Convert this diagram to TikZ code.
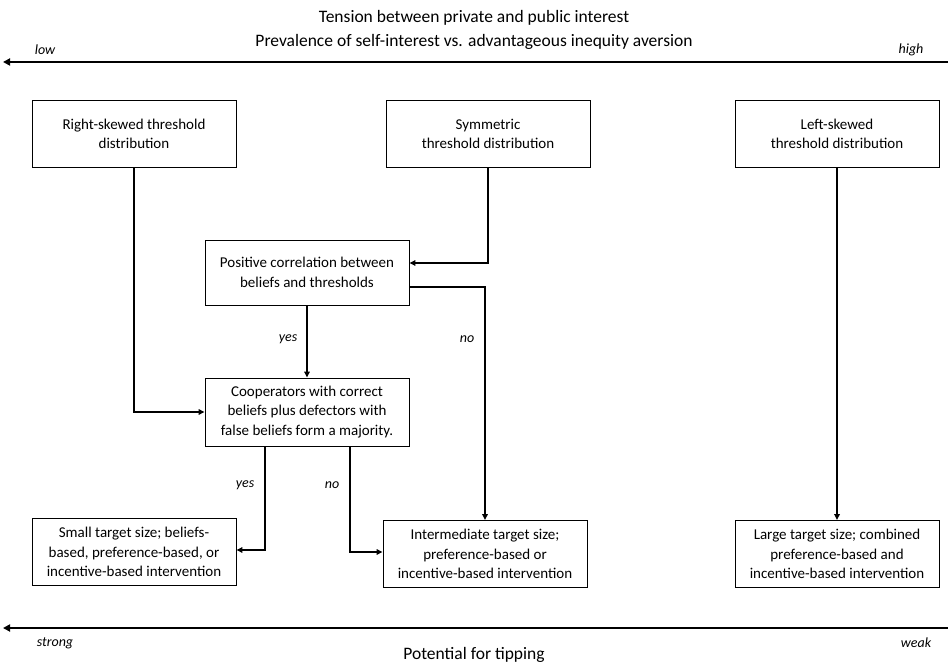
\documentclass[tikz,border=0pt]{standalone}
\usepackage{fontspec}
\setmainfont{Carlito}
\usetikzlibrary{arrows.meta}
\tikzset{
  box/.style={draw, line width=0.9pt, minimum width=204pt, minimum height=67pt, inner sep=0pt, align=center, font=\fontsize{15}{19.5}\selectfont},
  conn/.style={line width=2pt, -{Triangle[length=6pt,width=5.5pt]}},
  axis/.style={line width=2.6pt, -{Triangle[length=7pt,width=7pt]}},
  tag/.style={font=\fontsize{14}{16}\selectfont\itshape},
  heading/.style={font=\fontsize{17.5}{20}\selectfont}
}
\begin{document}
\begin{tikzpicture}[x=1pt,y=-1pt]
    \useasboundingbox (0,0) rectangle (948,668);

    %titoli e assi
    \node[heading] (t1) at (474,18) {Tension between private and public interest};
    \node[heading] (t2) at (474,42) {Prevalence of self-interest vs. advantageous inequity aversion};
    \coordinate (ax1r) at (948,62);
    \coordinate (ax1l) at (3,62);
    \draw[axis] (ax1r) -- (ax1l);
    \node[tag] (low) at (45,50) {low};
    \node[tag] (high) at (911,50) {high};

    \coordinate (ax2r) at (948,628);
    \coordinate (ax2l) at (3,628);
    \draw[axis] (ax2r) -- (ax2l);
    \node[tag] (strong) at (55,643) {strong};
    \node[tag] (weak) at (916,643) {weak};
    \node[heading] (tip) at (474,655) {Potential for tipping};

    %distribuzioni
    \node[box] (right) at (134,134) {Right-skewed threshold\\distribution};
    \node[box] (sym) at (488,134) {Symmetric\\threshold distribution};
    \node[box] (left) at (837,134) {Left-skewed\\threshold distribution};

    %domande
    \node[box, minimum height=65pt] (corr) at (307,272.5) {Positive correlation between\\beliefs and thresholds};
    \node[box, minimum height=68pt] (coop) at (307,412) {Cooperators with correct\\beliefs plus defectors with\\false beliefs form a majority.};

    %esiti
    \node[box] (small) at (134,552) {Small target size; beliefs-\\based, preference-based, or\\incentive-based intervention};
    \node[box] (mid) at (485,554) {Intermediate target size;\\preference-based or\\incentive-based intervention};
    \node[box] (large) at (837,554) {Large target size; combined\\preference-based and\\incentive-based intervention};

    %frecce
    \draw[conn] (sym.south) |- ([yshift=9.5pt]corr.east);
    \draw[conn] (right.south) |- (coop.west);
    \draw[conn] (corr.south) -- (coop.north);
    \draw[conn] ([yshift=-14.5pt]corr.east) -| (mid.north);
    \draw[conn] ([xshift=-42pt]coop.south) |- ([yshift=2pt]small.east);
    \draw[conn] ([xshift=43pt]coop.south) |- ([yshift=2pt]mid.west);
    \draw[conn] (left.south) -- (large.north);

    \node[tag] (yes1) at (288,339) {yes};
    \node[tag] (no1) at (467,339) {no};
    \node[tag] (yes2) at (245,485) {yes};
    \node[tag] (no2) at (332,485) {no};
\end{tikzpicture}
\end{document}
